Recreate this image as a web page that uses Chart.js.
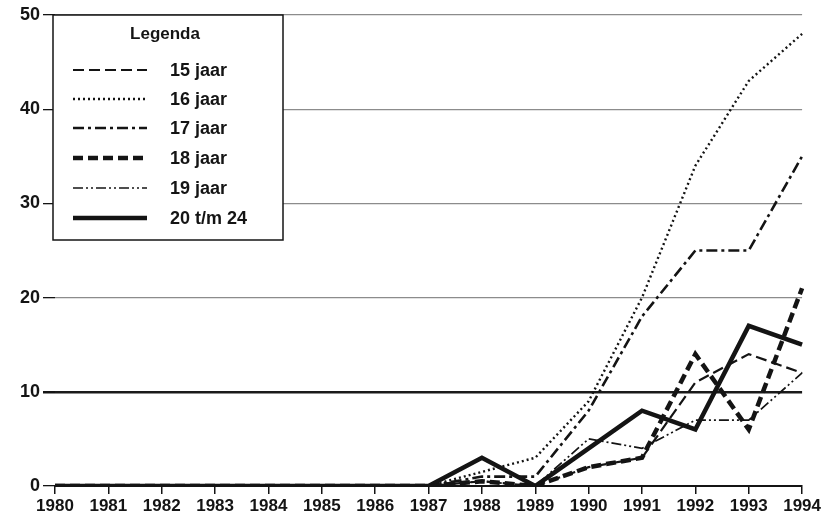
<!DOCTYPE html>
<html>
<head>
<meta charset="utf-8">
<script src="https://cdn.jsdelivr.net/npm/chart.js@4/dist/chart.umd.min.js"></script>
<style>
html,body{margin:0;padding:0;background:#fff;}
canvas{display:block;}
</style>
</head>
<body>
<canvas id="c" width="823" height="532"></canvas>
<script>
const years = ['1980','1981','1982','1983','1984','1985','1986','1987','1988','1989','1990','1991','1992','1993','1994'];
const jaar15 = [0,0,0,0,0,0,0,0,0.5,0,2,3,11,14,12];
const jaar16 = [0,0,0,0,0,0,0,0,1.5,3,9,20,34,43,48];
const jaar17 = [0,0,0,0,0,0,0,0,1,1,8,18,25,25,35];
const jaar18 = [0,0,0,0,0,0,0,0,0.5,0,2,3,14,6,21];
const jaar19 = [0,0,0,0,0,0,0,0,0.5,0,5,4,7,7,12];
const jaar20_24 = [0,0,0,0,0,0,0,0,3,0,4,8,6,17,15];
const seriesNames = ['15 jaar','16 jaar','17 jaar','18 jaar','19 jaar','20 t/m 24'];
const yTicks = [0,10,20,30,40,50];

const INK = '#141414';
const FONT = '"Liberation Sans", Arial, sans-serif';

const styles = [
  {w:2.2, dash:[11,5]},
  {w:2.4, dash:[2,3]},
  {w:2.6, dash:[11,4,3,4]},
  {w:4.5, dash:[10,5]},
  {w:1.7, dash:[10,3,2,3,2,3]},
  {w:4.5, dash:[]}
];
const values = [jaar15, jaar16, jaar17, jaar18, jaar19, jaar20_24];

const datasets = seriesNames.map((n,i)=>({
  label:n,
  data:values[i],
  borderColor:INK,
  backgroundColor:INK,
  borderWidth:styles[i].w,
  borderDash:styles[i].dash,
  pointRadius:0,
  tension:0,
  fill:false,
  borderCapStyle:'butt',
  borderJoinStyle:'miter'
}));

const legendBox = {
  id:'legendBox',
  afterDraw(chart){
    const ctx = chart.ctx;
    ctx.save();
    const x0=53, y0=15, x1=283, y1=240;
    ctx.fillStyle='#fff';
    ctx.fillRect(x0,y0,x1-x0,y1-y0);
    ctx.strokeStyle=INK;
    ctx.lineWidth=1.5;
    ctx.strokeRect(x0,y0,x1-x0,y1-y0);
    ctx.fillStyle=INK;
    ctx.font='bold 17px '+FONT;
    ctx.textAlign='center';
    ctx.textBaseline='middle';
    ctx.fillText('Legenda',165,34);
    ctx.font='bold 18px '+FONT;
    const rows=[70,99,128,158,188,218];
    chart.data.datasets.forEach((ds,i)=>{
      ctx.beginPath();
      ctx.setLineDash(ds.borderDash);
      ctx.lineWidth=ds.borderWidth;
      ctx.strokeStyle=INK;
      ctx.lineCap='butt';
      ctx.moveTo(73,rows[i]);
      ctx.lineTo(147,rows[i]);
      ctx.stroke();
      ctx.setLineDash([]);
      ctx.textAlign='left';
      ctx.fillText(ds.label,170,rows[i]+1);
    });
    ctx.restore();
  }
};

new Chart(document.getElementById('c'),{
  type:'line',
  data:{labels:years,datasets:datasets},
  options:{
    responsive:false,
    animation:false,
    devicePixelRatio:1,
    layout:{padding:{top:15,right:20,left:0,bottom:0}},
    plugins:{legend:{display:false},tooltip:{enabled:false},title:{display:false}},
    scales:{
      x:{
        type:'category',
        offset:false,
        border:{display:true,color:INK,width:2},
        grid:{drawOnChartArea:false,drawTicks:true,tickLength:8,color:INK,tickColor:INK,lineWidth:1.5},
        ticks:{color:INK,font:{family:FONT,size:17,weight:'bold'},padding:2,maxRotation:0,autoSkip:false},
        afterFit(s){s.height=46;}
      },
      y:{
        min:0,max:50,
        afterBuildTicks(s){s.ticks=yTicks.map(v=>({value:v}));},
        border:{display:false},
        grid:{
          drawTicks:true,tickLength:12,tickColor:INK,
          color:(c)=>c.tick && c.tick.value===10 ? '#1a1a1a' : '#8c8c8c',
          lineWidth:(c)=>c.tick && c.tick.value===10 ? 2.5 : 1.3
        },
        ticks:{color:INK,font:{family:FONT,size:18,weight:'bold'},padding:3},
        afterFit(s){s.width=55;}
      }
    }
  },
  plugins:[legendBox]
});
</script>
</body>
</html>
